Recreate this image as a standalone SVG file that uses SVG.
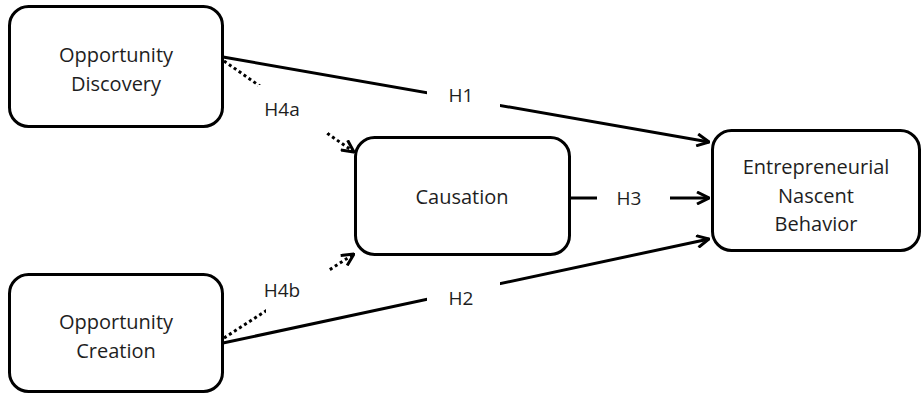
<svg xmlns="http://www.w3.org/2000/svg" width="921" height="395" viewBox="0 0 921 395">
  <style>
    .box { fill: #ffffff; stroke: #000000; stroke-width: 3; }
    .txt { font-family: "Open Sans", "Liberation Sans", sans-serif; font-size: 20px; fill: #1e1e1e; text-anchor: middle; }
    .lbl { font-family: "Open Sans", "Liberation Sans", sans-serif; font-size: 19px; fill: #1e1e1e; text-anchor: middle; }
    .line { stroke: #000000; stroke-width: 3; fill: none; marker-end: url(#arrow); }
    .dot { stroke: #000000; stroke-width: 3; fill: none; stroke-dasharray: 3 3; marker-end: url(#arrow); }
    .lblbg { fill: #ffffff; stroke: none; }
  </style>
  <defs>
    <marker id="arrow" viewBox="0 0 14 14" refX="13" refY="7" markerWidth="14" markerHeight="14" markerUnits="userSpaceOnUse" orient="auto">
      <path d="M1,1 L13,7 L1,13" fill="none" stroke="#000000" stroke-width="3" stroke-linejoin="miter"/>
    </marker>
  </defs>
  <rect width="921" height="395" fill="#ffffff"/>

  <g id="connectors">
    <g id="edge-h1">
      <line class="line" x1="223" y1="57" x2="709" y2="142"/>
      <rect class="lblbg" x="427" y="80" width="73" height="30"/>
      <text class="lbl" x="461" y="102">H1</text>
    </g>
    <g id="edge-h2">
      <line class="line" x1="223" y1="343" x2="709" y2="239"/>
      <rect class="lblbg" x="427" y="282" width="73" height="32"/>
      <text class="lbl" x="461" y="305">H2</text>
    </g>
    <g id="edge-h3">
      <line class="line" x1="570" y1="198" x2="709" y2="198"/>
      <rect class="lblbg" x="597" y="183" width="73" height="30"/>
      <text class="lbl" x="629" y="205">H3</text>
    </g>
    <g id="edge-h4a">
      <line class="dot" x1="224" y1="61" x2="354" y2="152"/>
      <rect class="lblbg" x="258" y="85" width="70" height="48"/>
      <text class="lbl" x="282" y="116">H4a</text>
    </g>
    <g id="edge-h4b">
      <line class="dot" x1="224" y1="338" x2="354" y2="254"/>
      <rect class="lblbg" x="266" y="268" width="62" height="45"/>
      <text class="lbl" x="282" y="297">H4b</text>
    </g>
  </g>

  <g id="node-discovery">
    <rect class="box" x="9.5" y="6.5" width="213" height="120" rx="19" ry="19"/>
    <text class="txt" x="116" y="62">Opportunity</text>
    <text class="txt" x="116" y="91">Discovery</text>
  </g>
  <g id="node-creation">
    <rect class="box" x="9.5" y="274.5" width="213" height="117" rx="19" ry="19"/>
    <text class="txt" x="116" y="329">Opportunity</text>
    <text class="txt" x="116" y="358">Creation</text>
  </g>
  <g id="node-causation">
    <rect class="box" x="355.5" y="137.5" width="214" height="117" rx="19" ry="19"/>
    <text class="txt" x="462" y="204">Causation</text>
  </g>
  <g id="node-behavior">
    <rect class="box" x="712.5" y="130.5" width="207" height="120" rx="19" ry="19"/>
    <text class="txt" x="816" y="174">Entrepreneurial</text>
    <text class="txt" x="816" y="203">Nascent</text>
    <text class="txt" x="816" y="231">Behavior</text>
  </g>
</svg>
